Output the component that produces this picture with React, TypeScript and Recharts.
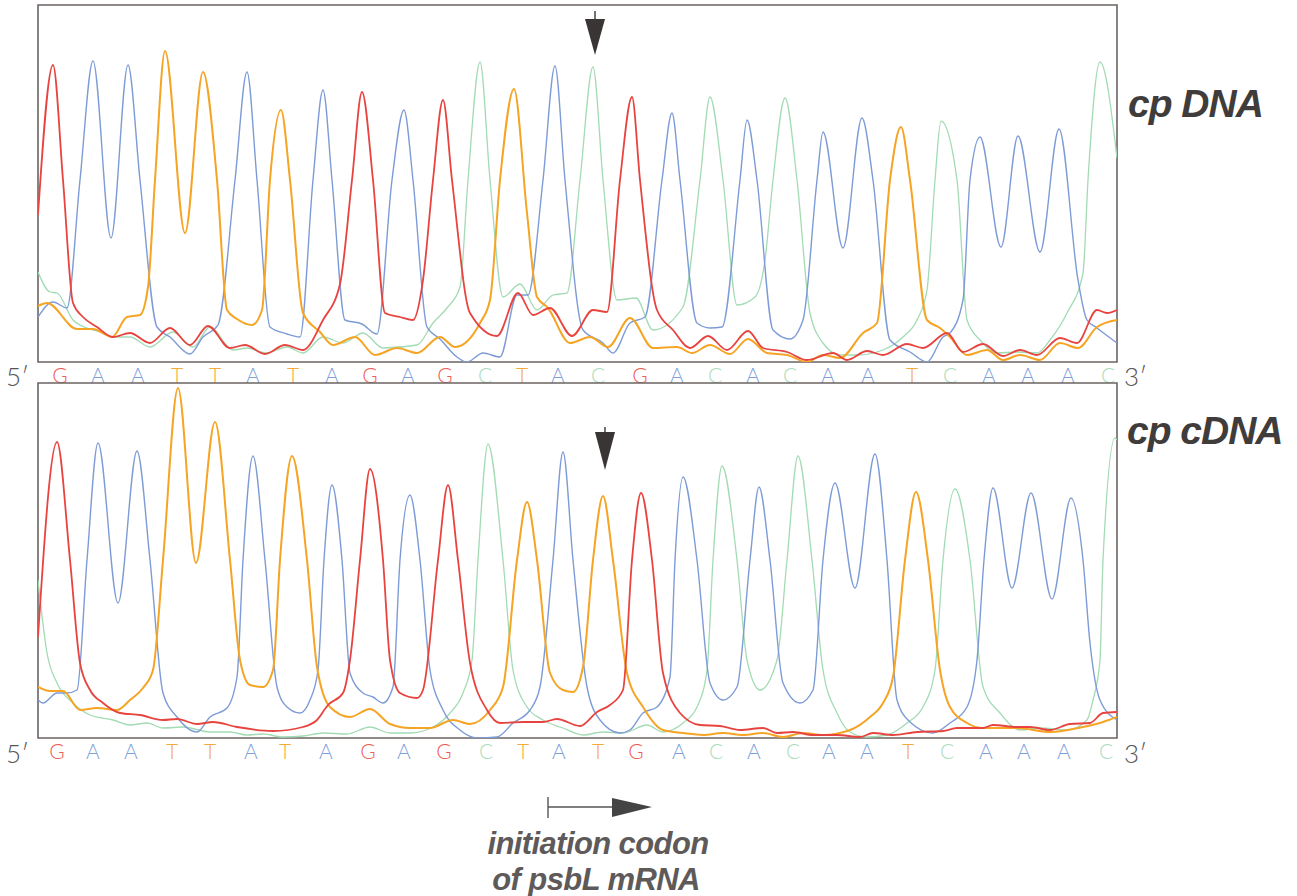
import React from "react";
import { LineChart, Line, XAxis, YAxis, ReferenceArea, ReferenceDot } from "recharts";

// ---- scan position (x) / signal intensity (y) ----
// Upper trace: chloroplast DNA
const TOP_G: [number, number][] = [[0,147],[15,297],[25,182],[35,59],[45,45],[59,35],[75,25],[92,29],[112,19],[132,34],[152,17],[170,36],[192,14],[207,17],[227,8],[247,17],[265,12],[285,42],[302,78],[314,182],[324,270],[335,182],[347,49],[362,45],[375,42],[385,82],[395,182],[405,262],[414,182],[432,49],[459,26],[480,69],[495,47],[512,54],[534,26],[555,52],[569,50],[582,182],[594,265],[602,182],[619,52],[635,32],[652,14],[670,26],[689,12],[710,31],[725,14],[749,10],[769,2],[795,9],[809,2],[829,11],[845,7],[869,18],[885,14],[909,29],[925,10],[945,18],[965,6],[982,12],[999,7],[1022,24],[1039,19],[1059,52],[1069,49],[1079,52]];
const TOP_T: [number, number][] = [[0,56],[9,59],[39,33],[55,33],[74,25],[89,45],[102,47],[110,75],[117,182],[127,311],[147,129],[165,290],[179,182],[189,52],[199,43],[214,37],[224,52],[232,182],[243,252],[252,182],[265,49],[282,30],[295,17],[317,25],[337,7],[359,14],[379,9],[402,25],[417,15],[442,39],[452,62],[462,182],[476,273],[489,149],[499,65],[510,54],[532,19],[552,25],[570,15],[592,44],[615,14],[639,15],[654,9],[672,17],[692,8],[710,23],[729,9],[749,7],[769,0],[785,7],[802,4],[825,29],[839,39],[852,182],[863,235],[872,182],[889,42],[902,34],[912,25],[929,7],[949,12],[965,2],[982,7],[1002,2],[1022,19],[1040,14],[1059,35],[1079,42]];
const TOP_A: [number, number][] = [[0,45],[15,60],[29,54],[42,182],[55,301],[73,124],[90,297],[102,182],[119,35],[132,25],[152,8],[165,25],[180,37],[197,182],[209,290],[219,182],[232,35],[249,28],[262,25],[275,182],[285,272],[294,182],[307,42],[324,38],[339,28],[354,182],[366,252],[375,182],[389,35],[402,23],[419,5],[429,0],[445,9],[462,5],[479,67],[490,67],[505,182],[517,296],[527,182],[545,32],[565,19],[575,9],[592,39],[607,45],[624,182],[634,249],[642,182],[659,39],[672,34],[684,35],[702,182],[709,242],[719,182],[735,32],[752,23],[765,42],[779,182],[785,230],[805,114],[824,244],[835,182],[852,22],[872,10],[889,0],[905,25],[912,29],[925,62],[932,182],[942,225],[963,115],[980,226],[1002,110],[1021,233],[1040,82],[1049,42],[1059,34],[1079,19]];
const TOP_C: [number, number][] = [[0,90],[12,70],[19,69],[35,42],[49,34],[62,30],[75,25],[92,25],[112,15],[135,30],[155,15],[172,35],[195,12],[209,14],[229,9],[249,15],[265,9],[285,25],[305,19],[325,29],[345,14],[379,17],[395,39],[409,54],[422,75],[430,182],[442,300],[452,182],[465,65],[482,78],[499,52],[515,67],[529,69],[542,182],[555,295],[565,182],[579,62],[598,64],[615,32],[645,55],[662,182],[672,265],[685,182],[699,57],[717,65],[727,102],[735,182],[747,264],[759,182],[772,49],[785,19],[802,7],[819,7],[845,12],[865,25],[879,42],[889,72],[897,182],[903,241],[919,182],[929,42],[942,22],[959,9],[979,10],[999,9],[1012,22],[1029,49],[1045,89],[1050,182],[1062,300],[1079,204]];

// Lower trace: chloroplast cDNA
const BOT_G: [number, number][] = [[0,101],[19,296],[32,178],[42,75],[52,48],[65,35],[82,25],[102,23],[125,18],[139,19],[159,14],[175,16],[199,11],[235,7],[265,11],[279,18],[290,33],[305,45],[312,78],[322,178],[332,269],[345,178],[352,78],[362,45],[379,40],[385,48],[400,178],[410,253],[420,178],[432,75],[449,28],[462,15],[485,16],[505,16],[519,19],[542,12],[559,26],[572,33],[585,48],[594,178],[603,245],[614,178],[625,65],[642,25],[662,13],[682,12],[702,8],[725,10],[739,5],[755,6],[775,3],[799,3],[822,1],[835,5],[855,3],[879,6],[905,7],[919,10],[945,10],[955,13],[979,11],[992,11],[1012,8],[1032,14],[1052,15],[1065,25],[1079,26]];
const BOT_T: [number, number][] = [[0,51],[12,47],[25,47],[42,28],[59,30],[79,28],[92,38],[105,50],[115,68],[125,178],[140,350],[158,175],[177,316],[192,178],[202,78],[212,53],[225,51],[235,68],[242,178],[254,282],[269,178],[279,71],[292,31],[312,21],[332,29],[352,14],[372,10],[392,10],[415,18],[432,14],[452,28],[465,51],[479,178],[489,236],[499,178],[512,65],[525,48],[535,46],[545,71],[555,178],[565,242],[575,178],[589,65],[605,31],[625,8],[645,5],[665,3],[685,5],[705,3],[725,5],[745,1],[765,5],[785,3],[812,8],[832,21],[845,35],[855,61],[867,178],[878,246],[890,178],[902,68],[912,31],[929,15],[945,10],[979,10],[1012,6],[1045,11],[1065,16],[1079,21]];
const BOT_A: [number, number][] = [[0,38],[5,35],[19,45],[29,45],[39,48],[49,178],[60,295],[80,135],[99,287],[112,178],[125,45],[139,21],[159,6],[172,21],[189,30],[199,61],[205,178],[215,282],[227,178],[239,51],[249,31],[262,25],[272,38],[280,68],[286,178],[294,253],[304,178],[312,65],[325,45],[335,41],[345,35],[355,51],[362,178],[372,243],[382,178],[392,68],[405,28],[422,8],[439,0],[459,1],[475,15],[492,28],[502,51],[515,178],[525,286],[535,178],[549,51],[562,18],[582,5],[592,8],[605,25],[619,31],[632,61],[637,178],[645,261],[659,178],[672,55],[685,38],[699,51],[712,178],[721,251],[732,178],[745,55],[762,35],[775,48],[785,178],[797,255],[817,150],[837,284],[849,178],[859,38],[872,16],[895,5],[912,15],[929,31],[939,78],[946,178],[955,250],[974,150],[993,245],[1014,139],[1033,240],[1045,178],[1052,95],[1062,38],[1079,18]];
const BOT_C: [number, number][] = [[0,158],[9,85],[19,55],[35,35],[52,23],[75,18],[92,13],[109,15],[125,10],[145,11],[172,6],[192,6],[209,3],[225,4],[245,1],[265,2],[285,5],[309,4],[332,11],[352,5],[372,5],[395,11],[412,25],[425,45],[434,78],[440,178],[450,294],[465,178],[475,68],[489,31],[505,18],[525,10],[545,3],[565,6],[585,5],[609,13],[625,6],[645,15],[659,31],[669,68],[675,178],[684,272],[699,178],[709,78],[722,48],[739,78],[749,178],[760,282],[774,178],[785,68],[799,25],[812,6],[829,1],[849,3],[869,15],[885,31],[897,68],[905,178],[917,249],[932,178],[945,51],[962,25],[982,8],[1002,10],[1029,8],[1049,18],[1055,38],[1062,78],[1065,178],[1077,300],[1079,298]];

// base calls and their scan positions
const TOP_BASES = "GAATTATAGAGCTACGACACAATCAAAC".split("");
const TOP_BASE_SCANS = [22,60,100,139,177,215,255,294,332,370,407,447,484,520,560,602,639,677,715,752,790,830,874,912,951,990,1030,1070];
const BOT_BASES = "GAATTATAGAGCTATGACACAATCAAAC".split("");
const BOT_BASE_SCANS = [19,55,93,134,172,213,247,288,330,366,406,448,485,521,560,598,641,678,716,755,791,829,870,909,948,986,1026,1068];

// arrow markers (scan, signal at tip)
const TOP_MARK: [number, number] = [557, 307];
const BOT_MARK: [number, number] = [567, 268];

const SCAN_MAX = 1079;
const TOP_MAX = 357;
const BOT_MAX = 355;

const TRACE: Record<string, string> = { G: "#e8443f", A: "#7d9bd6", T: "#f5a424", C: "#a2dbb4" };
const LABEL: Record<string, string> = { G: "#ee5d56", A: "#809fda", T: "#f4ab3c", C: "#acdcbd" };
const WIDTH: Record<string, number> = { G: 1.8, A: 1.4, T: 2, C: 1.3 };

const rows = (pts: [number, number][]) => pts.map(([s, v]) => ({ s, v }));

function makeTick(bases: string[]) {
  return (props: any) => {
    const { x, y, index } = props;
    const b = bases[index];
    return (
      <text x={x} y={y - 2} dy="0.71em" textAnchor="middle" fill={LABEL[b]}
        fontSize={21} fontFamily="Lato, 'Open Sans', sans-serif" fontWeight={300}>{b}</text>
    );
  };
}

const markerShape = (h: number, w: number, stem: number) => (props: any) => {
  const { cx, cy } = props;
  return (
    <g>
      <line x1={cx} y1={cy - h - stem} x2={cx} y2={cy - h} stroke="#3a3535" strokeWidth={1.4} />
      <polygon points={`${cx - w / 2},${cy - h} ${cx + w / 2},${cy - h} ${cx},${cy}`} fill="#3a3535" />
    </g>
  );
};

function Panel(props: {
  top: number; ymax: number; series: Record<string, [number, number][]>;
  bases: string[]; scans: number[]; mark: [number, number]; mh: number; mw: number; ms: number;
}) {
  const { top, ymax, series, bases, scans, mark, mh, mw, ms } = props;
  return (
    <div style={{ position: "absolute", left: 0, top }}>
      <LineChart width={1297} height={400} margin={{ top: 5, right: 180, bottom: top === 0 ? 18 : 20, left: 38 }}>
        <XAxis dataKey="s" type="number" domain={[0, SCAN_MAX]} ticks={scans} interval={0}
          axisLine={false} tickLine={false} height={20} tick={makeTick(bases)} allowDataOverflow />
        <YAxis type="number" domain={[0, ymax]} hide allowDataOverflow />
        {(["C", "A", "T", "G"] as const).map((k) => (
          <Line key={k} data={rows(series[k])} dataKey="v" type="monotone" stroke={TRACE[k]}
            strokeWidth={WIDTH[k]} dot={false} activeDot={false} isAnimationActive={false} />
        ))}
        <ReferenceArea x1={0} x2={SCAN_MAX} y1={0} y2={ymax} fill="none" fillOpacity={0}
          stroke="#6b6461" strokeWidth={1.6} ifOverflow="visible" />
        <ReferenceDot x={mark[0]} y={mark[1]} ifOverflow="visible" shape={markerShape(mh, mw, ms)} />
      </LineChart>
    </div>
  );
}

export default function App() {
  const thin = "Lato, 'Open Sans', sans-serif";
  const bold = "'Liberation Sans', Arial, sans-serif";
  return (
    <div style={{ position: "absolute", left: 0, top: 0, width: 1297, height: 896, background: "#fff" }}>
      <Panel top={0} ymax={TOP_MAX} series={{ G: TOP_G, T: TOP_T, A: TOP_A, C: TOP_C }}
        bases={TOP_BASES} scans={TOP_BASE_SCANS} mark={TOP_MARK} mh={36} mw={20} ms={8} />
      <Panel top={378} ymax={BOT_MAX} series={{ G: BOT_G, T: BOT_T, A: BOT_A, C: BOT_C }}
        bases={BOT_BASES} scans={BOT_BASE_SCANS} mark={BOT_MARK} mh={38} mw={20} ms={5} />
      <svg width={1297} height={896} style={{ position: "absolute", left: 0, top: 0, pointerEvents: "none" }}>
        <text x={6} y={386} fontSize={26} fontFamily={thin} fontWeight={300} fill="#555">5′</text>
        <text x={1124} y={386} fontSize={26} fontFamily={thin} fontWeight={300} fill="#555">3′</text>
        <text x={6} y={763} fontSize={26} fontFamily={thin} fontWeight={300} fill="#555">5′</text>
        <text x={1124} y={763} fontSize={26} fontFamily={thin} fontWeight={300} fill="#555">3′</text>
        <text x={1128} y={117} fontSize={39} fontFamily={bold} fontWeight="bold" fontStyle="italic"
          fill="#403c3c" letterSpacing={-1}>cp DNA</text>
        <text x={1127} y={444} fontSize={39} fontFamily={bold} fontWeight="bold" fontStyle="italic"
          fill="#403c3c" letterSpacing={-1}>cp cDNA</text>
        <line x1={548} y1={797} x2={548} y2={818} stroke="#555" strokeWidth={1.4} />
        <line x1={548} y1={807} x2={616} y2={807} stroke="#555" strokeWidth={1.6} />
        <polygon points="612,798 652,807 612,817" fill="#444" />
        <text x={598} y={854} textAnchor="middle" fontSize={31} fontFamily={bold} fontWeight="bold"
          fontStyle="italic" fill="#5e5a5a" letterSpacing={-0.6}>initiation codon</text>
        <text x={596} y={890} textAnchor="middle" fontSize={31} fontFamily={bold} fontWeight="bold"
          fontStyle="italic" fill="#5e5a5a" letterSpacing={-0.6}>of psbL mRNA</text>
      </svg>
    </div>
  );
}
